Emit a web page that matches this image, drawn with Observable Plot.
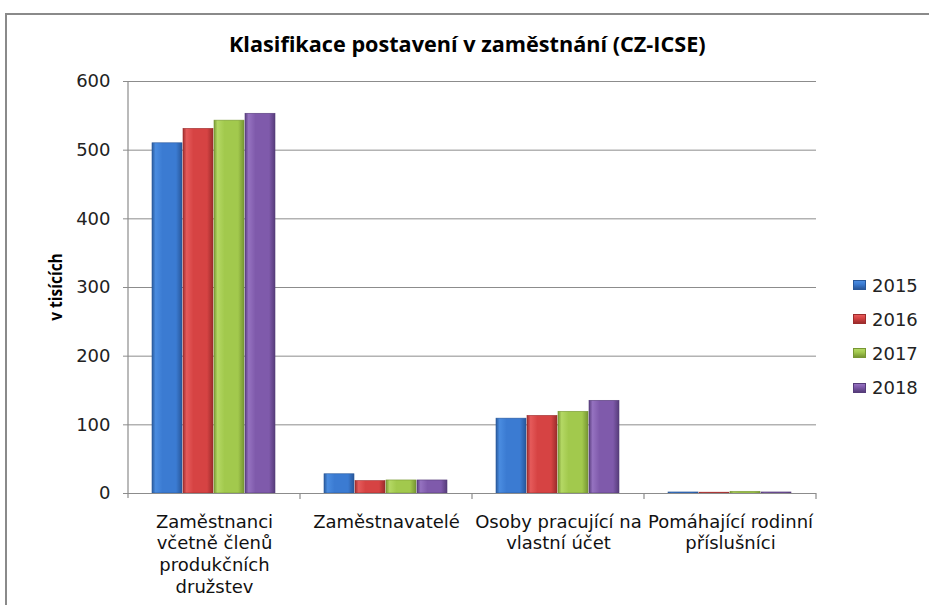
<!DOCTYPE html>
<html>
<head>
<meta charset="utf-8">
<script src="https://cdn.jsdelivr.net/npm/d3@7"></script>
<script src="https://cdn.jsdelivr.net/npm/@observablehq/plot@0.6"></script>
<style>
  html, body { margin: 0; padding: 0; background: #fff; overflow: hidden; width: 929px; height: 605px; }
  #wrap { position: relative; width: 929px; height: 605px; }
  #border { position: absolute; left: 5px; top: 13px; width: 1000px; height: 800px; border: 2px solid #8a8a8a; box-sizing: border-box; }
  #chart { position: absolute; left: 0; top: 0; }
  .fit { position: absolute; white-space: nowrap; font-family: "Open Sans", sans-serif; font-weight: bold; color: #000; line-height: 1; transform-origin: center center; }
  #title { font-size: 21px; }
  #ylabel { font-size: 18px; }
  #legend { position: absolute; left: 853px; top: 268px; font-family: "DejaVu Sans", sans-serif; font-size: 18px; color: #222; }
  .item { height: 34.2px; display: flex; align-items: center; }
  .sw { width: 13px; height: 10px; margin-right: 6px; box-sizing: border-box; }
</style>
</head>
<body>
<div id="wrap">
  <div id="border"></div>
  <div id="chart"></div>
  <span id="title" class="fit">Klasifikace postavení v zaměstnání (CZ-ICSE)</span>
  <span id="ylabel" class="fit">v tisících</span>
  <div id="legend"></div>
</div>
<script>
const categories = ["Zaměstnanci včetně členů produkčních družstev", "Zaměstnavatelé", "Osoby pracující na vlastní účet", "Pomáhající rodinní příslušníci"];
const categoryLabels = ["Zaměstnanci\nvčetně členů\nprodukčních\ndružstev", "Zaměstnavatelé", "Osoby pracující na\nvlastní účet", "Pomáhající rodinní\npříslušníci"];
const years = ["2015", "2016", "2017", "2018"];
const values2015 = [510, 28, 109, 1.5];
const values2016 = [531, 18, 113, 1.2];
const values2017 = [543, 19, 119, 2.5];
const values2018 = [553, 19, 135, 1.5];
const yTicks = [0, 100, 200, 300, 400, 500, 600];

const seriesValues = [values2015, values2016, values2017, values2018];
const colors = {
  "2015": ["#2a5c9e", "#4a8ce0", "#3b7bd2", "#28579a"],
  "2016": ["#a22f2f", "#e55a5a", "#d64343", "#9c2c2c"],
  "2017": ["#7c9c36", "#b4d864", "#a2c94d", "#779633"],
  "2018": ["#5b3f80", "#9572c0", "#7f5aab", "#563c7a"]
};

const data = [];
years.forEach((yr, j) => categories.forEach((c, i) => data.push({cat: c, year: yr, value: seriesValues[j][i]})));

const gridColor = "#8c8c8c";

const marks = [
  Plot.gridY(yTicks, {stroke: gridColor, strokeOpacity: 1, strokeWidth: 1})
];
years.forEach(yr => {
  marks.push(Plot.barY(data.filter(d => d.year === yr), {
    fx: "cat", x: "year", y: "value",
    fill: `url(#g${yr})`,
    stroke: colors[yr][3], strokeWidth: 0.6, insetRight: 1
  }));
});
marks.push(Plot.ruleY([0], {stroke: gridColor, strokeWidth: 1.2}));
marks.push(Plot.axisY(yTicks, {tickSize: 5, tickPadding: 13, fontSize: 18, label: null, stroke: gridColor, fill: "#222"}));
marks.push(Plot.axisFx({
  anchor: "bottom", tickSize: 0, tickPadding: 19, fontSize: 18, lineHeight: 1.2, label: null, fill: "#111",
  tickFormat: d => categoryLabels[categories.indexOf(d)]
}));

const plot = Plot.plot({
  width: 929, height: 605,
  marginLeft: 126, marginRight: 112, marginTop: 81, marginBottom: 112,
  style: {fontFamily: "'DejaVu Sans', sans-serif", background: "transparent", color: "#111"},
  fx: {domain: categories, padding: 0, label: null},
  x: {domain: years, paddingInner: 0, paddingOuter: 0.74, axis: null},
  y: {domain: [0, 600], label: null},
  marks
});

const svg = d3.select(plot);
const defs = svg.insert("defs", ":first-child");
years.forEach(yr => {
  const [e1, hi, base, e2] = colors[yr];
  const g = defs.append("linearGradient").attr("id", `g${yr}`).attr("x1", 0).attr("x2", 1).attr("y1", 0).attr("y2", 0);
  [[0, e1], [0.12, hi], [0.35, base], [0.8, base], [1, e2]].forEach(([o, c]) => g.append("stop").attr("offset", o).attr("stop-color", c));
});

// axis line and category boundary ticks derived from the plot's scales
const fxs = plot.scale("fx");
const ys = plot.scale("y");
const y0 = ys.apply(0), yTop = ys.apply(600);
const left = fxs.apply(categories[0]);
const g = svg.append("g").attr("stroke", gridColor).attr("stroke-width", 1.2);
g.append("line").attr("x1", left).attr("x2", left).attr("y1", yTop).attr("y2", y0 + 5);
categories.forEach((c, i) => {
  const xb = fxs.apply(c) + fxs.bandwidth;
  g.append("line").attr("x1", xb).attr("x2", xb).attr("y1", y0).attr("y2", y0 + 6);
});

document.getElementById("chart").appendChild(plot);

// fit title and axis label to the reference's measured extents
function place(id, cx, cy, targetLen, rotate) {
  const el = document.getElementById(id);
  const w = el.offsetWidth, h = el.offsetHeight;
  const s = targetLen / w;
  el.style.left = (cx - w / 2) + "px";
  el.style.top = (cy - h / 2) + "px";
  el.style.transform = (rotate ? "rotate(-90deg) " : "") + `scaleX(${s})`;
}
place("title", 467.5, 44, 477, false);
place("ylabel", 55, 287, 68, true);

const legend = document.getElementById("legend");
years.forEach(yr => {
  const item = document.createElement("div");
  item.className = "item";
  const sw = document.createElement("div");
  sw.className = "sw";
  sw.style.background = `linear-gradient(to bottom, ${colors[yr][1]}, ${colors[yr][2]} 40%, ${colors[yr][3]})`;
  sw.style.border = `1px solid ${colors[yr][3]}`;
  const t = document.createElement("span");
  t.textContent = yr;
  item.appendChild(sw); item.appendChild(t);
  legend.appendChild(item);
});
</script>
</body>
</html>
